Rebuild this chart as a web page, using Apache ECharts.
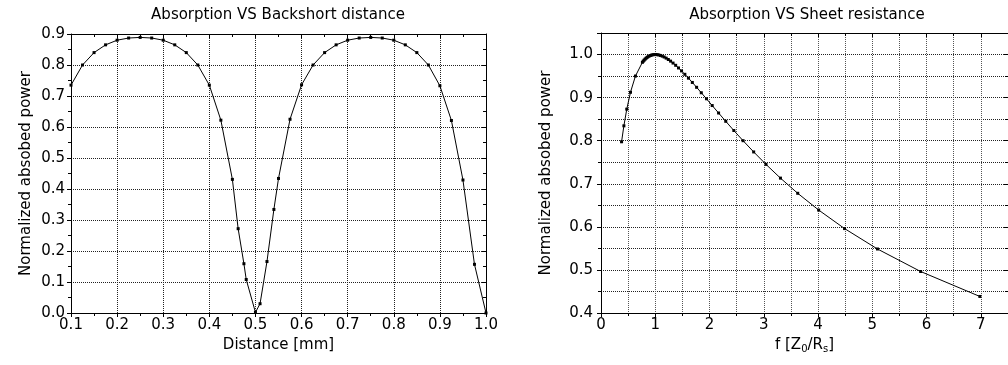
<!DOCTYPE html>
<html>
<head>
<meta charset="utf-8">
<script src="https://cdn.jsdelivr.net/npm/echarts@6/dist/echarts.min.js"></script>
<style>
html,body{margin:0;padding:0;background:#fff;}
#chart{width:1008px;height:365px;}
</style>
</head>
<body>
<div id="chart"></div>
<script>
// Left chart: Absorption VS Backshort distance
const distance = [0.1,0.125,0.15,0.175,0.2,0.225,0.25,0.275,0.3,0.325,0.35,0.375,0.4,0.425,0.45,0.4625,0.475,0.48,0.5,0.51,0.525,0.54,0.55,0.575,0.6,0.625,0.65,0.675,0.7,0.725,0.75,0.775,0.8,0.825,0.85,0.875,0.9,0.925,0.95,0.975,1.0];
const absorbedVsDistance = [0.735,0.800,0.840,0.865,0.880,0.887,0.889,0.887,0.880,0.865,0.840,0.800,0.735,0.622,0.431,0.272,0.159,0.108,0.002,0.030,0.166,0.334,0.434,0.625,0.736,0.800,0.840,0.865,0.880,0.887,0.889,0.887,0.880,0.865,0.840,0.800,0.733,0.621,0.429,0.157,0.0];

// Right chart: Absorption VS Sheet resistance
const fRatio = [0.379,0.4217,0.4748,0.5432,0.6347,0.7632,0.7789,0.7954,0.8125,0.8304,0.8491,0.8687,0.8892,0.9106,0.9332,0.9569,0.9818,1.0080,1.0357,1.0650,1.0959,1.1287,1.1636,1.2006,1.2401,1.2823,1.3275,1.3759,1.4280,1.4843,1.5451,1.6111,1.6830,1.7617,1.8480,1.9433,2.0489,2.1667,2.2988,2.4481,2.6181,2.8134,3.0403,3.3070,3.6250,4.0106,4.4881,5.0946,5.8906,6.9815];
const absorbedVsF = [0.7975,0.8345,0.8732,0.9124,0.9501,0.9820,0.9846,0.9870,0.9893,0.9914,0.9933,0.9951,0.9966,0.9978,0.9988,0.9995,0.9999,1.0000,0.9997,0.9990,0.9979,0.9963,0.9943,0.9917,0.9885,0.9847,0.9802,0.9750,0.9689,0.9620,0.9541,0.9452,0.9352,0.9239,0.9113,0.8973,0.8816,0.8643,0.8450,0.8236,0.8000,0.7739,0.7450,0.7131,0.6779,0.6390,0.5960,0.5486,0.4963,0.4384];

const titles = ['Absorption VS Backshort distance','Absorption VS Sheet resistance'];
const yName = 'Normalized absobed power';
const xNameLeft = 'Distance [mm]';
const xNameRight = 'f [Z{sub|0}/R{sub|s}]';

const FONT = 'DejaVu Sans, sans-serif';
const FS = 15;
const dotted = {type:'dotted', color:'#222', width:1};
const dottedLight = {type:'dotted', color:'#555', width:1};
const axisLineStyle = {lineStyle:{color:'#000', width:1}};

function mainX(grid, min, max, interval, fmt, name, gap, rich, minorGrid){
  return {
    type:'value', gridIndex:grid, position:'bottom', min:min, max:max, interval:interval,
    name:name, nameLocation:'middle', nameGap:gap,
    nameTextStyle:{fontFamily:FONT, fontSize:FS, color:'#000', rich:rich},
    axisLine:axisLineStyle,
    axisTick:{show:true, length:4, lineStyle:{color:'#000'}},
    minorTick:{show:true, splitNumber:2, length:3, lineStyle:{color:'#000'}},
    axisLabel:{fontFamily:FONT, fontSize:FS, color:'#000', margin:5, formatter:fmt, showMaxLabel: grid===0},
    splitLine:{show:true, lineStyle: minorGrid ? dottedLight : dotted},
    minorSplitLine:{show:minorGrid, lineStyle:dottedLight}
  };
}
function mainY(grid, min, max, interval, gap, minorGrid, margin){
  return {
    type:'value', gridIndex:grid, position:'left', min:min, max:max, interval:interval,
    name:yName, nameLocation:'middle', nameGap:gap,
    nameTextStyle:{fontFamily:FONT, fontSize:FS, color:'#000'},
    axisLine:axisLineStyle,
    axisTick:{show:true, length:4, lineStyle:{color:'#000'}},
    minorTick:{show:true, splitNumber:2, length:3, lineStyle:{color:'#000'}},
    axisLabel:{fontFamily:FONT, fontSize:FS, color:'#000', margin:margin, formatter:v=>v.toFixed(1), showMaxLabel: grid===0},
    splitLine:{show:true, lineStyle:dotted},
    minorSplitLine:{show:minorGrid, lineStyle:dotted}
  };
}
function frameAxis(grid, pos, min, max, interval){
  return {
    type:'value', gridIndex:grid, position:pos, min:min, max:max, interval:interval,
    axisLine:{show:true, onZero:false, lineStyle:{color:'#000', width:1}},
    axisTick:{show:true, inside:true, length:4, lineStyle:{color:'#000'}},
    minorTick:{show:true, splitNumber:2, length:3, lineStyle:{color:'#000'}},
    axisLabel:{show:false},
    splitLine:{show:false}
  };
}

const titleStyle = {fontFamily:FONT, fontSize:FS, fontWeight:'normal', color:'#000'};
const chart = echarts.init(document.getElementById('chart'), null, {renderer:'canvas'});
chart.setOption({
  animation:false,
  backgroundColor:'#fff',
  title:[
    {text:titles[0], left:278, top:8, padding:0, textAlign:'center', textStyle:titleStyle},
    {text:titles[1], left:807, top:8, padding:0, textAlign:'center', textStyle:titleStyle}
  ],
  grid:[
    {left:71, top:34, width:415, height:279},
    {left:601, top:33, width:416, height:280}
  ],
  xAxis:[
    mainX(0, 0.1, 1.0, 0.1, v=>v.toFixed(1), xNameLeft, 19, null, false),
    frameAxis(0, 'top', 0.1, 1.0, 0.1),
    mainX(1, 0, 7.5, 1, v=>String(Math.round(v)), xNameRight, 17,
      {sub:{fontFamily:FONT, fontSize:10, color:'#000', verticalAlign:'bottom', padding:[9,0,0,0]}}, true),
    frameAxis(1, 'top', 0, 7.5, 1)
  ],
  yAxis:[
    mainY(0, 0, 0.9, 0.1, 37, false, 6),
    frameAxis(0, 'right', 0, 0.9, 0.1),
    mainY(1, 0.4, 1.05, 0.1, 47, true, 8),
    frameAxis(1, 'right', 0.4, 1.05, 0.1)
  ],
  series:[
    {
      type:'line', xAxisIndex:0, yAxisIndex:0,
      data: distance.map((d,i)=>[d, absorbedVsDistance[i]]),
      symbol:'rect', symbolSize:3, showSymbol:true,
      lineStyle:{color:'#000', width:1}, itemStyle:{color:'#000'}, clip:false
    },
    {
      type:'line', xAxisIndex:2, yAxisIndex:2,
      data: fRatio.map((f,i)=>[f, absorbedVsF[i]]),
      symbol:'rect', symbolSize:3, showSymbol:true,
      lineStyle:{color:'#000', width:1}, itemStyle:{color:'#000'}
    }
  ]
});
</script>
</body>
</html>
